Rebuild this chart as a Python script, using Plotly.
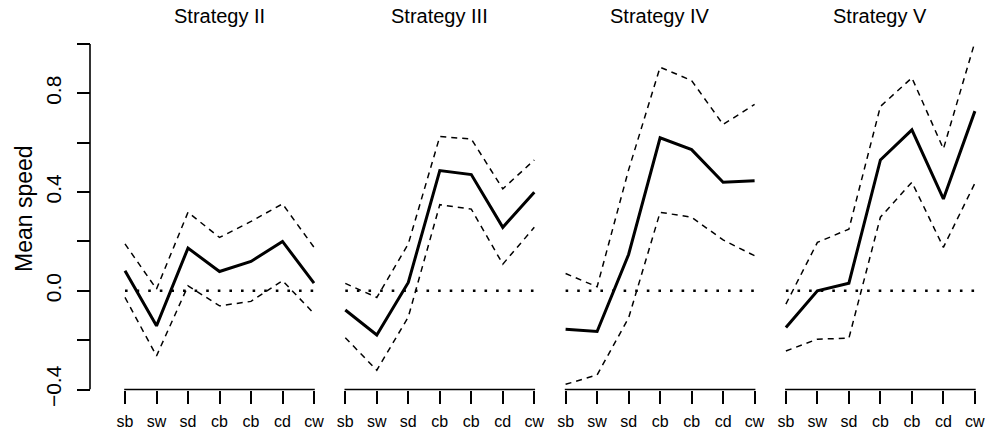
import plotly.graph_objects as go

# Category labels along each panel's x axis (note the repeated "cb")
categories = ["sb", "sw", "sd", "cb", "cb", "cd", "cw"]
panel_titles = ["Strategy II", "Strategy III", "Strategy IV", "Strategy V"]

# Mean speed per category, with lower / upper bands
mean_II = [0.081, -0.142, 0.173, 0.078, 0.119, 0.200, 0.031]
upper_II = [0.190, 0.007, 0.318, 0.216, 0.281, 0.352, 0.176]
lower_II = [-0.027, -0.264, 0.020, -0.061, -0.043, 0.041, -0.092]

mean_III = [-0.078, -0.179, 0.034, 0.487, 0.471, 0.257, 0.399]
upper_III = [0.030, -0.027, 0.190, 0.625, 0.615, 0.413, 0.530]
lower_III = [-0.190, -0.322, -0.106, 0.349, 0.331, 0.108, 0.257]

mean_IV = [-0.156, -0.165, 0.147, 0.620, 0.572, 0.440, 0.446]
upper_IV = [0.070, 0.016, 0.490, 0.906, 0.852, 0.674, 0.755]
lower_IV = [-0.379, -0.341, -0.110, 0.318, 0.298, 0.206, 0.142]

mean_V = [-0.149, 0.000, 0.031, 0.530, 0.652, 0.372, 0.728]
upper_V = [-0.054, 0.196, 0.250, 0.747, 0.863, 0.575, 1.008]
lower_V = [-0.244, -0.196, -0.192, 0.298, 0.440, 0.176, 0.436]

y_tick_values = [-0.4, -0.2, 0.0, 0.2, 0.4, 0.6, 0.8, 1.0]
y_tick_labels = ["\u22120.4", "", "0.0", "", "0.4", "", "0.8", ""]
baseline = 0.0

panels = [
    (mean_II, upper_II, lower_II),
    (mean_III, upper_III, lower_III),
    (mean_IV, upper_IV, lower_IV),
    (mean_V, upper_V, lower_V),
]

W, H = 988, 431
FONT = "Liberation Sans, Arial, Helvetica, sans-serif"

# pixel layout helpers
y_bottom_px, y_top_px = 389.5, 34.0
y_min, y_max_tick = y_tick_values[0], y_tick_values[-1]
px_per_unit = (y_bottom_px - 44.0) / (y_max_tick - y_min)
y_range = [y_min, y_max_tick + (44.0 - y_top_px) / px_per_unit]
y_domain = [(H - y_bottom_px) / H, (H - y_top_px) / H]

first_tick_px, panel_step_px, cat_step_px = 125.0, 220.3, 31.5
pad = 0.4
x_idx = list(range(1, len(categories) + 1))

fig = go.Figure()
layout_axes = {}
shapes = []
annotations = []

for i, (mean, upper, lower) in enumerate(panels):
    ax = "x" if i == 0 else f"x{i + 1}"
    axname = "xaxis" if i == 0 else f"xaxis{i + 1}"
    x0 = first_tick_px + panel_step_px * i
    x_last = x0 + (len(categories) - 1) * cat_step_px
    left = x0 - pad * cat_step_px
    right = x_last + pad * cat_step_px

    # zero reference (dotted)
    fig.add_trace(go.Scatter(
        x=[x_idx[0], x_idx[-1]], y=[baseline, baseline], mode="lines",
        line=dict(color="black", width=2.6, dash="2.6px,9px"),
        xaxis=ax, yaxis="y", showlegend=False, hoverinfo="skip"))
    for band in (upper, lower):
        fig.add_trace(go.Scatter(
            x=x_idx, y=band, mode="lines",
            line=dict(color="black", width=1.5, dash="6px,5px"),
            xaxis=ax, yaxis="y", showlegend=False))
    fig.add_trace(go.Scatter(
        x=x_idx, y=mean, mode="lines",
        line=dict(color="black", width=3),
        xaxis=ax, yaxis="y", showlegend=False))

    layout_axes[axname] = dict(
        domain=[left / W, min(right / W, 1.0)],
        range=[1 - pad, len(categories) + pad],
        anchor="y", automargin=False,
        tickmode="array", tickvals=x_idx, ticktext=categories,
        ticks="outside", ticklen=13, tickwidth=1.6, tickcolor="black",
        showline=False, showgrid=False, zeroline=False,
        tickfont=dict(family=FONT, size=16, color="black"),
        ticklabelstandoff=4,
        fixedrange=True,
    )

    # axis baseline spanning first to last tick (paper coords so it is not clipped)
    shapes.append(dict(type="line", xref="paper", yref="paper",
                       x0=(x0 - 0.8) / W, x1=(x_last + 0.8) / W,
                       y0=y_domain[0], y1=y_domain[0],
                       line=dict(color="black", width=1.6)))

    annotations.append(dict(
        text=panel_titles[i], xref=f"{ax} domain", x=0.5, yref="paper",
        y=(H - 16) / H, xanchor="center", yanchor="middle",
        showarrow=False, font=dict(family=FONT, size=20, color="black")))

# left axis line
y_axis_x = 90.0 / W
shapes.append(dict(type="line", xref="paper", yref="y",
                   x0=y_axis_x, x1=y_axis_x, y0=y_min, y1=y_max_tick,
                   line=dict(color="black", width=1.6)))

annotations.append(dict(
    text="Mean speed", xref="paper", yref="paper",
    x=24 / W, y=(H - 209) / H, textangle=-90,
    xanchor="center", yanchor="middle", showarrow=False,
    font=dict(family=FONT, size=23, color="black")))

fig.update_layout(
    width=W, height=H,
    margin=dict(l=0, r=0, t=0, b=0, pad=0, autoexpand=False),
    paper_bgcolor="white", plot_bgcolor="white",
    showlegend=False,
    yaxis=dict(
        domain=y_domain,
        range=y_range, anchor="free", position=y_axis_x,
        automargin=False,
        tickmode="array", tickvals=y_tick_values, ticktext=y_tick_labels,
        ticks="outside", ticklen=13, tickwidth=1.6, tickcolor="black",
        tickangle=-90, showline=False, showgrid=False, zeroline=False,
        tickfont=dict(family=FONT, size=21, color="black"),
        ticklabelstandoff=8,
        fixedrange=True,
    ),
    shapes=shapes,
    annotations=annotations,
    **layout_axes,
)

fig.write_html("out.html")
